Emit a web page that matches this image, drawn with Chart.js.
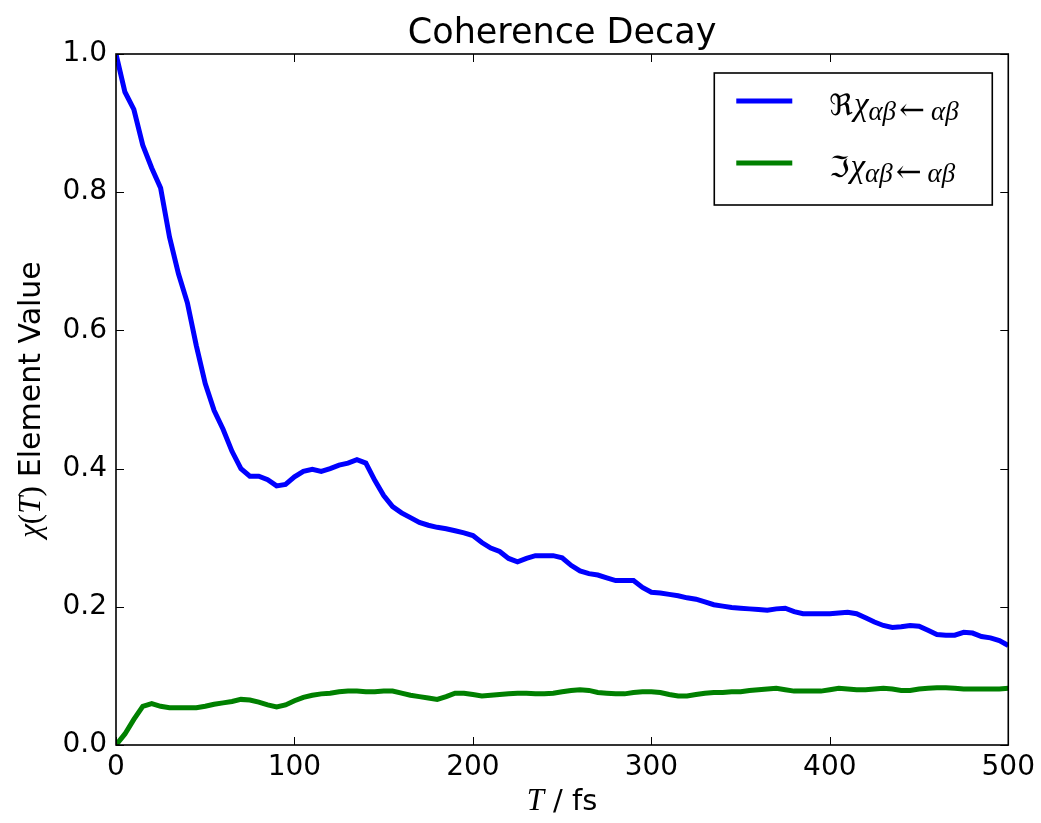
<!DOCTYPE html>
<html>
<head>
<meta charset="utf-8">
<title>Coherence Decay</title>
<script src="https://cdn.jsdelivr.net/npm/chart.js@4/dist/chart.umd.min.js"></script>
<style>
  html, body { margin: 0; padding: 0; background: #fff; }
  #wrap { width: 1041px; height: 823px; }
</style>
</head>
<body>
<div id="wrap"><canvas id="chart" width="1041" height="823"></canvas></div>
<script>
// Time grid (fs) and the two chi-matrix element series.
var times = [
  0, 5, 10, 15, 20, 25, 30, 35, 40, 45, 50, 55, 60, 65, 70, 75, 80, 85, 90, 95,
  100, 105, 110, 115, 120, 125, 130, 135, 140, 145, 150, 155, 160, 165, 170, 175, 180, 185, 190, 195,
  200, 205, 210, 215, 220, 225, 230, 235, 240, 245, 250, 255, 260, 265, 270, 275, 280, 285, 290, 295,
  300, 305, 310, 315, 320, 325, 330, 335, 340, 345, 350, 355, 360, 365, 370, 375, 380, 385, 390, 395,
  400, 405, 410, 415, 420, 425, 430, 435, 440, 445, 450, 455, 460, 465, 470, 475, 480, 485, 490, 495,
  500
];

var chiRe = [
  1.000, 0.945, 0.920, 0.868, 0.835, 0.806, 0.735, 0.682, 0.640, 0.578,
  0.523, 0.484, 0.457, 0.425, 0.400, 0.389, 0.389, 0.384, 0.375, 0.377,
  0.388, 0.396, 0.399, 0.396, 0.400, 0.405, 0.408, 0.413, 0.408, 0.383,
  0.361, 0.345, 0.336, 0.329, 0.322, 0.318, 0.315, 0.313, 0.310, 0.307,
  0.303, 0.293, 0.285, 0.280, 0.270, 0.265, 0.270, 0.274, 0.274, 0.274,
  0.271, 0.260, 0.252, 0.248, 0.246, 0.242, 0.238, 0.238, 0.238, 0.228,
  0.221, 0.220, 0.218, 0.216, 0.213, 0.211, 0.207, 0.203, 0.201, 0.199,
  0.198, 0.197, 0.196, 0.195, 0.197, 0.198, 0.193, 0.190, 0.190, 0.190,
  0.190, 0.191, 0.192, 0.190, 0.184, 0.178, 0.173, 0.170, 0.171, 0.173,
  0.172, 0.166, 0.160, 0.159, 0.159, 0.163, 0.162, 0.157, 0.155, 0.151,
  0.144
];

var chiIm = [
  0.000, 0.016, 0.037, 0.056, 0.060, 0.056, 0.054, 0.054, 0.054, 0.054,
  0.056, 0.059, 0.061, 0.063, 0.066, 0.065, 0.062, 0.058, 0.055, 0.058,
  0.064, 0.069, 0.072, 0.074, 0.075, 0.077, 0.078, 0.078, 0.077, 0.077,
  0.078, 0.078, 0.075, 0.072, 0.070, 0.068, 0.066, 0.070, 0.075, 0.075,
  0.073, 0.071, 0.072, 0.073, 0.074, 0.075, 0.075, 0.074, 0.074, 0.075,
  0.077, 0.079, 0.080, 0.079, 0.076, 0.075, 0.074, 0.074, 0.076, 0.077,
  0.077, 0.076, 0.073, 0.071, 0.071, 0.073, 0.075, 0.076, 0.076, 0.077,
  0.077, 0.079, 0.080, 0.081, 0.082, 0.080, 0.078, 0.078, 0.078, 0.078,
  0.080, 0.082, 0.081, 0.080, 0.080, 0.081, 0.082, 0.081, 0.079, 0.079,
  0.081, 0.082, 0.083, 0.083, 0.082, 0.081, 0.081, 0.081, 0.081, 0.081,
  0.082
];

var xTicks = [0, 100, 200, 300, 400, 500];
var yTicks = [0.0, 0.2, 0.4, 0.6, 0.8, 1.0];

var BLUE = '#0000ff';
var GREEN = '#008000';
var SANS = '"DejaVu Sans", sans-serif';
var MATH = '"Liberation Serif", "DejaVu Serif", serif';
var FRAKTUR = '"DejaVu Serif", "DejaVu Sans", serif';

function toPoints(xs, ys) {
  return xs.map(function (x, i) { return { x: x, y: ys[i] }; });
}

// Draws a row of differently styled text runs; returns the total width.
function drawRuns(ctx, runs, x, y, align) {
  var total = 0;
  runs.forEach(function (r) {
    ctx.font = r.font;
    r.w = ctx.measureText(r.text).width;
    total += r.w + (r.gap || 0);
  });
  var cx = align === 'center' ? x - total / 2 : x;
  runs.forEach(function (r) {
    ctx.font = r.font;
    ctx.fillText(r.text, cx, y + (r.dy || 0));
    cx += r.w + (r.gap || 0);
  });
  return total;
}

var legendItems = [
  { color: BLUE, part: '\u211C' },
  { color: GREEN, part: '\u2111' }
];

var framePlugin = {
  id: 'frameAndLabels',
  afterDatasetsDraw: function (chart) {
    var ctx = chart.ctx;
    var area = chart.chartArea;
    var xs = chart.scales.x;
    var ys = chart.scales.y;
    var tick = 8;

    ctx.save();
    ctx.strokeStyle = '#000';
    ctx.lineWidth = 1;
    ctx.beginPath();
    // Inward ticks on all four sides.
    xTicks.forEach(function (v) {
      var px = Math.round(xs.getPixelForValue(v)) + 0.5;
      ctx.moveTo(px, area.bottom);
      ctx.lineTo(px, area.bottom - tick);
      ctx.moveTo(px, area.top);
      ctx.lineTo(px, area.top + tick);
    });
    yTicks.forEach(function (v) {
      var py = Math.round(ys.getPixelForValue(v)) + 0.5;
      ctx.moveTo(area.left, py);
      ctx.lineTo(area.left + tick, py);
      ctx.moveTo(area.right, py);
      ctx.lineTo(area.right - tick, py);
    });
    ctx.stroke();

    ctx.lineWidth = 1.6;
    ctx.strokeRect(area.left, area.top, area.right - area.left, area.bottom - area.top);
    ctx.restore();
  },
  afterDraw: function (chart) {
    var ctx = chart.ctx;
    var area = chart.chartArea;
    var midX = (area.left + area.right) / 2;

    ctx.save();
    ctx.fillStyle = '#000';
    ctx.textBaseline = 'alphabetic';
    ctx.textAlign = 'left';

    // Title, centred over the plot box.
    drawRuns(ctx, [
      { text: 'Coherence Decay', font: '35px ' + SANS }
    ], midX, 43, 'center');

    // x axis title: T / fs
    drawRuns(ctx, [
      { text: 'T', font: 'italic 31px ' + MATH, gap: 9 },
      { text: '/ fs', font: '29px ' + SANS }
    ], midX, 810, 'center');

    // y axis title, rotated: chi(T) Element Value
    ctx.save();
    ctx.translate(40, (area.top + area.bottom) / 2);
    ctx.rotate(-Math.PI / 2);
    drawRuns(ctx, [
      { text: '\u03C7', font: 'italic 31px ' + MATH },
      { text: '(', font: '31px ' + MATH },
      { text: 'T', font: 'italic 31px ' + MATH },
      { text: ')', font: '31px ' + MATH, gap: 9 },
      { text: 'Element Value', font: '30px ' + SANS }
    ], 0, 0, 'center');
    ctx.restore();

    // Legend box.
    var box = { left: area.right - 294, top: area.top + 19, width: 278, height: 132 };
    ctx.fillStyle = '#fff';
    ctx.fillRect(box.left, box.top, box.width, box.height);
    ctx.strokeStyle = '#000';
    ctx.lineWidth = 1.6;
    ctx.strokeRect(box.left, box.top, box.width, box.height);

    legendItems.forEach(function (item, i) {
      var rowY = box.top + 28 + i * 62;
      ctx.strokeStyle = item.color;
      ctx.lineWidth = 5;
      ctx.beginPath();
      ctx.moveTo(box.left + 22, rowY);
      ctx.lineTo(box.left + 78, rowY);
      ctx.stroke();

      ctx.fillStyle = '#000';
      drawRuns(ctx, [
        { text: item.part, font: '29px ' + FRAKTUR, gap: 1 },
        { text: '\u03C7', font: 'italic 33px ' + MATH },
        { text: '\u03B1\u03B2', font: 'italic 27px ' + MATH, dy: 5, gap: 3 },
        { text: '\u2190', font: '31px ' + FRAKTUR, dy: 5, gap: 6 },
        { text: '\u03B1\u03B2', font: 'italic 27px ' + MATH, dy: 5 }
      ], box.left + 115, rowY + 14, 'left');
    });
    ctx.restore();
  }
};

Chart.defaults.font.family = SANS;
Chart.defaults.color = '#000';

new Chart(document.getElementById('chart'), {
  type: 'line',
  data: {
    datasets: [
      {
        label: 'Re chi',
        data: toPoints(times, chiRe),
        borderColor: BLUE,
        borderWidth: 5,
        pointRadius: 0,
        tension: 0,
        fill: false
      },
      {
        label: 'Im chi',
        data: toPoints(times, chiIm),
        borderColor: GREEN,
        borderWidth: 5,
        pointRadius: 0,
        tension: 0,
        fill: false
      }
    ]
  },
  plugins: [framePlugin],
  options: {
    responsive: false,
    animation: false,
    devicePixelRatio: 1,
    layout: { padding: { left: 0, right: 32, top: 54, bottom: 0 } },
    plugins: {
      legend: { display: false },
      tooltip: { enabled: false },
      title: { display: false }
    },
    scales: {
      x: {
        type: 'linear',
        min: 0,
        max: 500,
        afterBuildTicks: function (axis) {
          axis.ticks = xTicks.map(function (v) { return { value: v }; });
        },
        afterFit: function (axis) { axis.height = 78; },
        grid: { display: false, drawTicks: false },
        border: { display: false },
        ticks: {
          font: { size: 28 },
          color: '#000',
          padding: 6,
          maxRotation: 0,
          callback: function (v) { return String(v); }
        }
      },
      y: {
        type: 'linear',
        min: 0,
        max: 1,
        afterBuildTicks: function (axis) {
          axis.ticks = yTicks.map(function (v) { return { value: v }; });
        },
        afterFit: function (axis) { axis.width = 116; },
        grid: { display: false, drawTicks: false },
        border: { display: false },
        ticks: {
          font: { size: 28 },
          color: '#000',
          padding: 9,
          callback: function (v) { return Number(v).toFixed(1); }
        }
      }
    }
  }
});
</script>
</body>
</html>
